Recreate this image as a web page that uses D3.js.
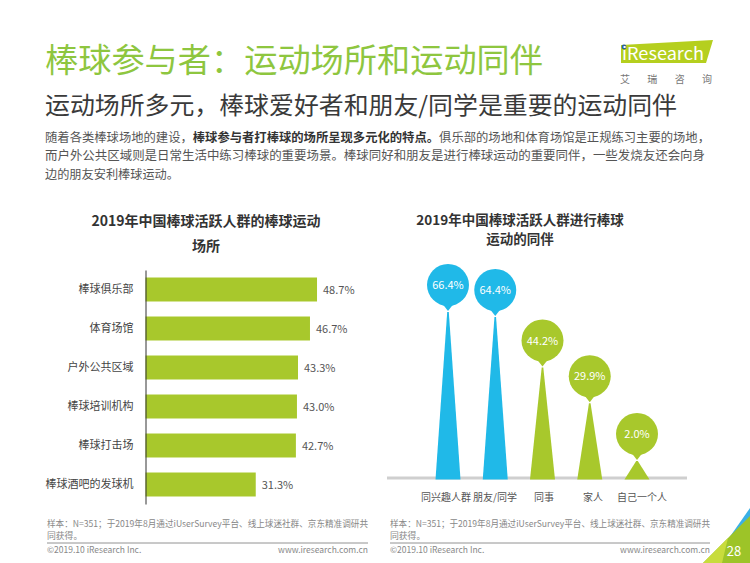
<!DOCTYPE html>
<html>
<head>
<meta charset="utf-8">
<script src="https://cdn.jsdelivr.net/npm/d3@7"></script>
<style>
  html, body { margin: 0; padding: 0; background: #fff; }
  svg { display: block; }
  text { font-family: "Noto Sans CJK SC", "Noto Sans", sans-serif; }
</style>
</head>
<body>
<svg id="chart" width="750" height="563"></svg>
<script>
// ---------- data ----------
const pageTitle = "棒球参与者：运动场所和运动同伴";
const pageSubtitle = "运动场所多元，棒球爱好者和朋友/同学是重要的运动同伴";
const paragraphLines = [
  [["随着各类棒球场地的建设，", false], ["棒球参与者打棒球的场所呈现多元化的特点。", true], ["俱乐部的场地和体育场馆是正规练习主要的场地，", false]],
  [["而户外公共区域则是日常生活中练习棒球的重要场景。棒球同好和朋友是进行棒球运动的重要同伴，一些发烧友还会向身", false]],
  [["边的朋友安利棒球运动。", false]]
];
const venueTitle = ["2019年中国棒球活跃人群的棒球运动", "场所"];
const venueCategories = ["棒球俱乐部", "体育场馆", "户外公共区域", "棒球培训机构", "棒球打击场", "棒球酒吧的发球机"];
const venueValues = [48.7, 46.7, 43.3, 43.0, 42.7, 31.3];
const companionTitle = ["2019年中国棒球活跃人群进行棒球", "运动的同伴"];
const companionCategories = ["同兴趣人群", "朋友/同学", "同事", "家人", "自己一个人"];
const companionValues = [66.4, 64.4, 44.2, 29.9, 2.0];
const sourceLines = ["样本：N=351；于2019年8月通过iUserSurvey平台、线上球迷社群、京东精准调研共", "同获得。"];
const copyright = "©2019.10 iResearch Inc.";
const website = "www.iresearch.com.cn";
const pageNumber = "28";

// ---------- styles ----------
const GREEN = "#a8c82c";
const BLUE = "#20b9e8";
const TITLE_GREEN = "#8ec63f";

const svg = d3.select("#chart");

// ---------- header ----------
svg.append("text").attr("x", 45).attr("y", 72)
  .attr("font-size", 33).attr("fill", TITLE_GREEN)
  .attr("textLength", 498).attr("lengthAdjust", "spacingAndGlyphs")
  .text(pageTitle);

svg.append("text").attr("x", 45).attr("y", 114)
  .attr("font-size", 24).attr("fill", "#3a3a3a")
  .attr("textLength", 632).attr("lengthAdjust", "spacingAndGlyphs")
  .text(pageSubtitle);

// logo
const logo = svg.append("g");
logo.append("path").attr("d", "M621,45 L713,40 L706,63 L621,63 Z").attr("fill", "#b5cf1e");
logo.append("circle").attr("cx", 624).attr("cy", 47).attr("r", 2.4).attr("fill", "#2d5f9a");
logo.append("text").attr("x", 622).attr("y", 60).attr("font-size", 17)
  .attr("font-family", "Open Sans, sans-serif")
  .attr("fill", "#fff").attr("textLength", 82).attr("lengthAdjust", "spacingAndGlyphs")
  .text("iResearch");
logo.append("text").attr("x", 620).attr("y", 83).attr("font-size", 10).attr("fill", "#777")
  .attr("textLength", 92).attr("lengthAdjust", "spacing")
  .text("艾瑞咨询");

// paragraph
const paraLengths = [665, 660, 134];
paragraphLines.forEach((segs, i) => {
  const t = svg.append("text").attr("x", 45).attr("y", 142 + i * 18.3)
    .attr("font-size", 12.3).attr("fill", "#555")
    .attr("textLength", paraLengths[i]).attr("lengthAdjust", "spacingAndGlyphs");
  segs.forEach(([s, bold]) => {
    t.append("tspan").attr("font-weight", bold ? "bold" : "normal")
      .attr("fill", bold ? "#333" : "#555").text(s);
  });
});

// ---------- left chart: venues ----------
const left = svg.append("g");
venueTitle.forEach((s, i) => {
  left.append("text").attr("x", 206).attr("y", 226 + i * 24.5)
    .attr("text-anchor", "middle").attr("font-size", 14).attr("font-weight", "bold")
    .attr("fill", "#333").text(s);
});

const yV = d3.scaleBand().domain(venueCategories).range([270, 504])
  .paddingInner(0.385).paddingOuter(0.1925);
const xV = d3.scaleLinear().domain([0, 50]).range([145.5, 321.6]);

left.selectAll("rect.bar").data(venueValues).join("rect")
  .attr("class", "bar")
  .attr("x", xV(0))
  .attr("y", (d, i) => yV(venueCategories[i]))
  .attr("width", d => xV(d) - xV(0))
  .attr("height", yV.bandwidth())
  .attr("fill", GREEN);

left.selectAll("text.val").data(venueValues).join("text")
  .attr("class", "val")
  .attr("x", d => xV(d) + 6)
  .attr("y", (d, i) => yV(venueCategories[i]) + yV.bandwidth() / 2 + 4)
  .attr("font-size", 11).attr("fill", "#555")
  .text(d => d.toFixed(1) + "%");

const yAxis = d3.axisLeft(yV).tickSize(0).tickPadding(12);
const ax = left.append("g").attr("transform", `translate(${xV(0)},0)`).call(yAxis);
ax.select(".domain").attr("stroke", "#333").attr("stroke-width", 1);
ax.selectAll("text").attr("font-size", 11).attr("fill", "#444")
  .attr("font-family", "Noto Sans CJK SC, sans-serif");

// ---------- right chart: companions ----------
const right = svg.append("g");
companionTitle.forEach((s, i) => {
  right.append("text").attr("x", 520).attr("y", 225 + i * 19)
    .attr("text-anchor", "middle").attr("font-size", 13.5).attr("font-weight", "bold")
    .attr("fill", "#333").text(s);
});

const baseY = 478;
const xC = d3.scalePoint().domain(companionCategories).range([448, 637]);
const xLabel = d3.scalePoint().domain(companionCategories).range([446, 642]);
const yC = d3.scaleLinear().domain([0, 70]).range([baseY, baseY - 175]);
const minStem = 17;
const stemTop = v => Math.min(yC(v), baseY - minStem);
const colorOf = i => (i < 2 ? BLUE : GREEN);

right.append("line").attr("x1", 387).attr("x2", 687)
  .attr("y1", baseY).attr("y2", baseY)
  .attr("stroke", "#cfcfcf").attr("stroke-width", 3);

const halfBase = 12.5;
right.selectAll("path.stem").data(companionValues).join("path")
  .attr("class", "stem")
  .attr("d", (d, i) => {
    const cx = xC(companionCategories[i]);
    const top = stemTop(d);
    return `M${cx - halfBase},${baseY + 1.5} L${cx + halfBase},${baseY + 1.5} L${cx + 0.8},${top} L${cx - 0.8},${top} Z`;
  })
  .attr("fill", (d, i) => colorOf(i));

const R = 21;
const drop = right.selectAll("g.drop").data(companionValues).join("g")
  .attr("class", "drop")
  .attr("transform", (d, i) => `translate(${xC(companionCategories[i])},${stemTop(d) - 27})`);
drop.append("circle").attr("r", R).attr("fill", (d, i) => colorOf(i));
drop.append("path").attr("d", `M${-7},${R - 4} L7,${R - 4} L0,${R + 5} Z`)
  .attr("fill", (d, i) => colorOf(i));
drop.append("text").attr("text-anchor", "middle").attr("y", 4)
  .attr("font-size", 11).attr("fill", "#fff")
  .text(d => d.toFixed(1) + "%");

right.selectAll("text.cat").data(companionCategories).join("text")
  .attr("class", "cat")
  .attr("x", d => xLabel(d)).attr("y", 501)
  .attr("text-anchor", "middle").attr("font-size", 10).attr("fill", "#555")
  .text(d => d);

// ---------- footer ----------
[[47, 368], [390, 710]].forEach(([x0, x1]) => {
  const f = svg.append("g");
  sourceLines.forEach((s, i) => {
    const t = f.append("text").attr("x", x0).attr("y", 527 + i * 11.5)
      .attr("font-size", 8.8).attr("fill", "#888").text(s);
    if (i === 0) t.attr("textLength", x1 - x0).attr("lengthAdjust", "spacingAndGlyphs");
  });
  f.append("line").attr("x1", x0).attr("x2", x1).attr("y1", 543).attr("y2", 543)
    .attr("stroke", "#777").attr("stroke-width", 0.8);
  f.append("text").attr("x", x0).attr("y", 553).attr("font-size", 8.5).attr("fill", "#888")
    .attr("font-family", "Liberation Sans, Arial, sans-serif").text(copyright);
  f.append("text").attr("x", x1).attr("y", 553).attr("text-anchor", "end")
    .attr("font-size", 8.5).attr("fill", "#888")
    .attr("font-family", "Liberation Sans, Arial, sans-serif").text(website);
});

// corner decoration
svg.append("path").attr("d", "M722,548 L750,508 L750,522 L733,548 Z").attr("fill", "#3ab0e6");
svg.append("path").attr("d", "M703,563 L750,516 L750,563 Z").attr("fill", "#9dc428");
svg.append("path").attr("d", "M703,563 L728,538 L722,563 Z").attr("fill", "#c8dc3c");
svg.append("text").attr("x", 734).attr("y", 556).attr("text-anchor", "middle")
  .attr("font-size", 13).attr("fill", "#fff")
  .attr("font-family", "Liberation Sans, Arial, sans-serif").text(pageNumber);
</script>
</body>
</html>
